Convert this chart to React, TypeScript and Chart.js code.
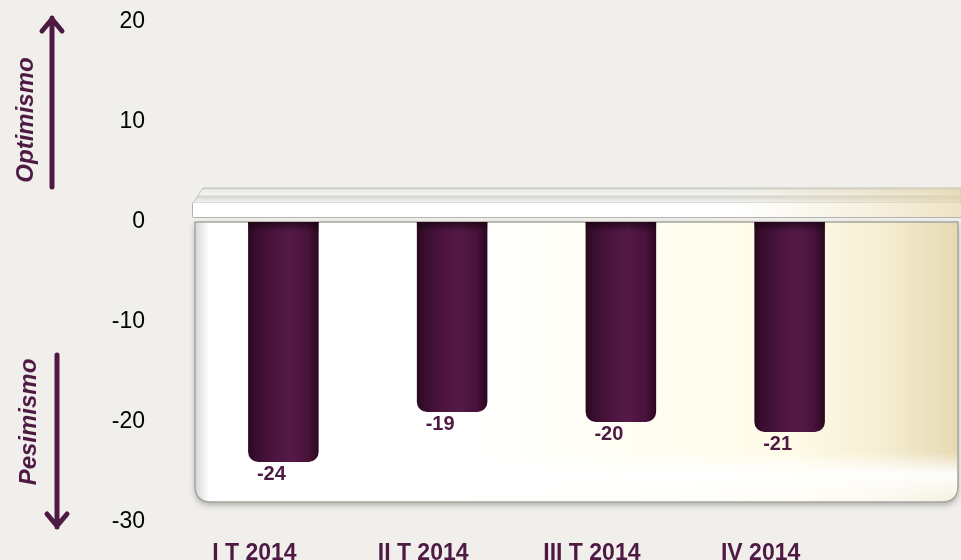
import { useEffect, useRef } from "react";
import { Chart, registerables } from "chart.js";

Chart.register(...registerables);

// ---- data ----
const categories = ["I T 2014", "II T 2014", "III T 2014", "IV 2014"];
const values = [-24, -19, -20, -21];
const yMin = -30;
const yMax = 20;
const yStep = 10;
const upLabel = "Optimismo";
const downLabel = "Pesimismo";

// ---- styles ----
const PURPLE = "#4e1a44";
const BG = "#f0efeb";
const BAR_FRAC = 0.418;
const FONT = "'Liberation Sans', Arial, sans-serif";

const backdrop = {
  id: "backdrop",
  beforeDatasetsDraw(chart: any) {
    const { ctx, chartArea, scales } = chart;
    const y = scales.y;
    const W = chart.width;
    const top = y.getPixelForValue(0);
    const bottom = y.getPixelForValue(-28);
    const left = chartArea.left - 4;
    const right = W - 3;
    const r = 16;
    ctx.save();

    const path = () => {
      ctx.beginPath();
      ctx.moveTo(left, top);
      ctx.lineTo(right, top);
      ctx.lineTo(right, bottom - r);
      ctx.quadraticCurveTo(right, bottom, right - r, bottom);
      ctx.lineTo(left + r, bottom);
      ctx.quadraticCurveTo(left, bottom, left, bottom - r);
      ctx.closePath();
    };
    const g = ctx.createLinearGradient(left, 0, right, 0);
    g.addColorStop(0, "#ffffff");
    g.addColorStop(0.35, "#ffffff");
    g.addColorStop(0.55, "#fffef4");
    g.addColorStop(0.78, "#fffbe8");
    g.addColorStop(0.9, "#f6eed3");
    g.addColorStop(1, "#e6d9b2");
    path();
    ctx.shadowColor = "rgba(0,0,0,0.28)";
    ctx.shadowBlur = 6;
    ctx.shadowOffsetY = 3;
    ctx.fillStyle = g;
    ctx.fill();
    ctx.shadowColor = "transparent";

    ctx.save();
    path();
    ctx.clip();
    const gb = ctx.createLinearGradient(0, top, 0, bottom);
    gb.addColorStop(0, "rgba(255,255,255,0)");
    gb.addColorStop(0.82, "rgba(255,255,255,0)");
    gb.addColorStop(0.9, "rgba(255,255,255,0.95)");
    gb.addColorStop(1, "rgba(255,255,255,0.6)");
    ctx.fillStyle = gb;
    ctx.fillRect(left, top, right - left, bottom - top);
    const gl = ctx.createLinearGradient(left, 0, left + 14, 0);
    gl.addColorStop(0, "rgba(0,0,0,0.16)");
    gl.addColorStop(1, "rgba(0,0,0,0)");
    ctx.fillStyle = gl;
    ctx.fillRect(left, top, 14, bottom - top);
    ctx.restore();

    path();
    ctx.lineWidth = 1.5;
    ctx.strokeStyle = "#a6a6a0";
    ctx.stroke();

    // slab (floor at zero)
    const sTop = top - 34;
    const sMid = top - 19;
    const sBot = top - 5;
    const gt = ctx.createLinearGradient(0, sTop, 0, sMid);
    gt.addColorStop(0, "#cfcfc9");
    gt.addColorStop(0.15, "#ececE8");
    gt.addColorStop(0.45, "#f4f4f0");
    gt.addColorStop(0.55, "#d6d6d0");
    gt.addColorStop(1, "#f7f7f5");
    ctx.beginPath();
    ctx.moveTo(left + 8, sTop);
    ctx.lineTo(W, sTop);
    ctx.lineTo(W, sMid);
    ctx.lineTo(left - 2, sMid);
    ctx.closePath();
    ctx.fillStyle = gt;
    ctx.fill();
    ctx.strokeStyle = "#c4c4be";
    ctx.lineWidth = 1;
    ctx.stroke();
    ctx.fillStyle = "#ffffff";
    ctx.fillRect(left - 2, sMid, W - left + 2, sBot - sMid);
    ctx.strokeStyle = "#b4b4ae";
    ctx.beginPath();
    ctx.moveTo(left - 2, sBot + 0.5);
    ctx.lineTo(W, sBot + 0.5);
    ctx.moveTo(left - 2.5, sMid);
    ctx.lineTo(left - 2.5, sBot);
    ctx.stroke();
    const gc = ctx.createLinearGradient(left, 0, W, 0);
    gc.addColorStop(0, "rgba(230,215,170,0)");
    gc.addColorStop(0.7, "rgba(230,215,170,0)");
    gc.addColorStop(1, "rgba(225,205,150,0.55)");
    ctx.fillStyle = gc;
    ctx.fillRect(left - 2, sTop, W - left + 2, sBot - sTop);
    ctx.restore();
  },
  afterDatasetsDraw(chart: any) {
    const { ctx } = chart;
    const meta = chart.getDatasetMeta(0);
    ctx.save();
    meta.data.forEach((bar: any, i: number) => {
      const { x, y, base, width } = bar.getProps(["x", "y", "base", "width"], true);
      const gs = ctx.createLinearGradient(0, base, 0, base + 10);
      gs.addColorStop(0, "rgba(15,0,10,0.6)");
      gs.addColorStop(1, "rgba(15,0,10,0)");
      ctx.fillStyle = gs;
      ctx.fillRect(x - width / 2, base, width, 10);
      ctx.fillStyle = PURPLE;
      ctx.font = `bold 20px ${FONT}`;
      ctx.textAlign = "center";
      ctx.textBaseline = "middle";
      ctx.fillText(String(values[i]), x - 12, y + 12);
    });
    ctx.restore();
  },
  afterDraw(chart: any) {
    const { ctx, scales } = chart;
    const y = scales.y;
    ctx.save();
    ctx.strokeStyle = PURPLE;
    ctx.fillStyle = PURPLE;
    ctx.lineWidth = 5;
    ctx.lineCap = "round";
    ctx.lineJoin = "round";
    const ux = 52;
    const uTop = y.getPixelForValue(20.4);
    const uBot = y.getPixelForValue(3.5);
    ctx.beginPath();
    ctx.moveTo(ux, uBot);
    ctx.lineTo(ux, uTop);
    ctx.moveTo(ux - 10, uTop + 13);
    ctx.lineTo(ux, uTop + 1);
    ctx.lineTo(ux + 10, uTop + 13);
    ctx.stroke();
    const dx = 57;
    const dTop = y.getPixelForValue(-13.3);
    const dBot = y.getPixelForValue(-30.5);
    ctx.beginPath();
    ctx.moveTo(dx, dTop);
    ctx.lineTo(dx, dBot);
    ctx.moveTo(dx - 10, dBot - 13);
    ctx.lineTo(dx, dBot - 1);
    ctx.lineTo(dx + 10, dBot - 13);
    ctx.stroke();
    ctx.font = `italic bold 24px ${FONT}`;
    ctx.textAlign = "center";
    ctx.textBaseline = "alphabetic";
    ctx.save();
    ctx.translate(33, y.getPixelForValue(10.2));
    ctx.rotate(-Math.PI / 2);
    ctx.fillText(upLabel, 0, 0);
    ctx.restore();
    ctx.save();
    ctx.translate(36, y.getPixelForValue(-20));
    ctx.rotate(-Math.PI / 2);
    ctx.fillText(downLabel, 0, 0);
    ctx.restore();
    ctx.restore();
  },
};

export default function App() {
  const ref = useRef<HTMLCanvasElement | null>(null);
  useEffect(() => {
    if (!ref.current) return;
    const chart = new Chart(ref.current, {
      type: "bar",
      data: {
        labels: categories,
        datasets: [
          {
            data: values,
            barPercentage: BAR_FRAC,
            categoryPercentage: 1,
            borderRadius: 10,
            borderSkipped: "start",
            backgroundColor: (c: any) => {
              const chart = c.chart;
              const xs = chart.scales && chart.scales.x;
              if (!xs || c.dataIndex == null || !chart.chartArea) return PURPLE;
              const cx = xs.getPixelForValue(c.dataIndex);
              const w = (xs.width / categories.length) * BAR_FRAC;
              if (!isFinite(cx) || !isFinite(w)) return PURPLE;
              const g = chart.ctx.createLinearGradient(cx - w / 2, 0, cx + w / 2, 0);
              g.addColorStop(0, "#2a0820");
              g.addColorStop(0.12, "#3a0e30");
              g.addColorStop(0.35, "#4a143e");
              g.addColorStop(0.6, "#561a48");
              g.addColorStop(0.85, "#481239");
              g.addColorStop(1, "#2a0820");
              return g;
            },
          },
        ],
      },
      options: {
        animation: false,
        responsive: false,
        maintainAspectRatio: false,
        layout: { padding: { top: 22, right: 87, bottom: 0, left: 0 } },
        plugins: {
          legend: { display: false },
          tooltip: { enabled: false },
          title: { display: false },
        },
        scales: {
          x: {
            grid: { display: false, drawTicks: false },
            border: { display: false },
            ticks: {
              color: PURPLE,
              font: { family: FONT, size: 23, weight: "bold" },
              labelOffset: -29,
              padding: 18,
              maxRotation: 0,
              autoSkip: false,
            },
            afterFit: (s: any) => {
              s.height = 38;
            },
          },
          y: {
            min: yMin,
            max: yMax,
            grid: { display: false, drawTicks: false },
            border: { display: false },
            ticks: {
              stepSize: yStep,
              color: "#000000",
              font: { family: FONT, size: 23 },
              padding: 54,
            },
            afterFit: (s: any) => {
              s.width = 199;
              s.paddingTop = 8;
              s.paddingBottom = 8;
            },
          },
        },
      },
      plugins: [backdrop],
    });
    return () => chart.destroy();
  }, []);
  return (
    <div
      style={{
        position: "absolute",
        left: 0,
        top: 0,
        width: 961,
        height: 560,
        background: BG,
        overflow: "hidden",
      }}
    >
      <canvas ref={ref} width={961} height={560} style={{ display: "block" }} />
    </div>
  );
}
